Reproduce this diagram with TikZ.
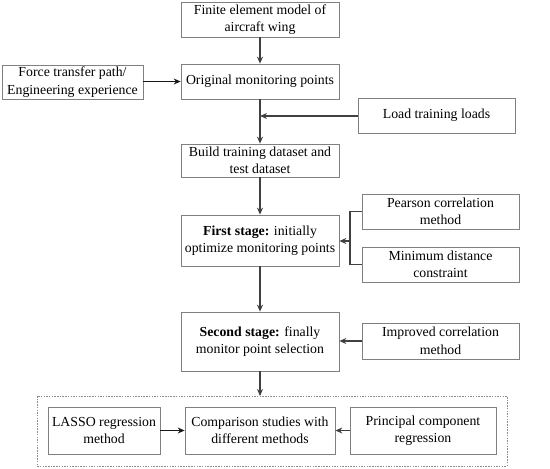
\documentclass[tikz,border=0pt]{standalone}
\usepackage{fontspec}
\setmainfont{Liberation Serif}
\usetikzlibrary{arrows.meta}
\begin{document}
\begin{tikzpicture}[x=1pt,y=-1pt,
  box/.style={draw=black!50,line width=0.7pt,inner sep=0pt,align=center,font=\fontsize{13.8}{17.5}\selectfont},
  conn/.style={draw=black!75,line width=1.7pt,-{Stealth[length=7pt,width=6pt]}},
  plain/.style={draw=black!75,line width=1.7pt}]
\useasboundingbox (0,0) rectangle (550,469);
\newcommand{\bx}[6]{\node[box,minimum width=#4-#2,minimum height=#5-#3] (#1) at ({(#2+#4)/2},{(#3+#5)/2}) {#6};}
\bx{fe}{181}{2}{339}{37}{Finite element model of\\aircraft wing}
\bx{ftp}{2}{65}{143}{99}{Force transfer path/\\Engineering experience}
\bx{omp}{181}{64}{339}{99}{Original monitoring points}
\bx{load}{358}{98}{515}{133}{Load training loads}
\bx{btd}{181}{144}{339}{177}{Build training dataset and\\test dataset}
\bx{fs}{181}{215}{339}{266}{\textbf{First stage:} initially\\optimize monitoring points}
\bx{pc}{362}{194}{519}{229}{Pearson correlation\\method}
\bx{md}{362}{247}{519}{282}{Minimum distance\\constraint}
\bx{ss}{181}{312}{339}{371}{\textbf{Second stage:} finally\\monitor point selection}
\bx{ic}{362}{323}{519}{359}{Improved correlation\\method}
\bx{la}{48}{407}{160}{454}{LASSO regression\\method}
\bx{cs}{185}{407}{335}{454}{Comparison studies with\\different methods}
\bx{pr}{350}{407}{496}{454}{Principal component\\regression}
\draw[black!45,line width=0.6pt,dash pattern=on 1.5pt off 1.2pt] (37,396) rectangle (507,466);
\coordinate (dtop) at (260,396);
\coordinate (jl) at (260,116);
\coordinate (br) at (350,241);
\draw[conn] (fe.south) -- (omp.north);
\draw[conn,draw=black!90] (ftp.east |- omp.west) -- (omp.west);
\draw[conn] (omp.south) -- (btd.north);
\draw[conn] (load.west |- jl) -- (jl);
\draw[conn] (btd.south) -- (fs.north);
\draw[plain] (pc.west) -| (br) |- (md.west);
\draw[conn] (br) -- (fs.east |- br);
\draw[conn] (fs.south) -- (ss.north);
\draw[conn] (ic.west) -- (ss.east |- ic.west);
\draw[conn] (ss.south) -- (dtop);
\draw[conn,draw=black!90] (la.east) -- (cs.west);
\draw[conn] (pr.west) -- (cs.east);
\end{tikzpicture}
\end{document}
